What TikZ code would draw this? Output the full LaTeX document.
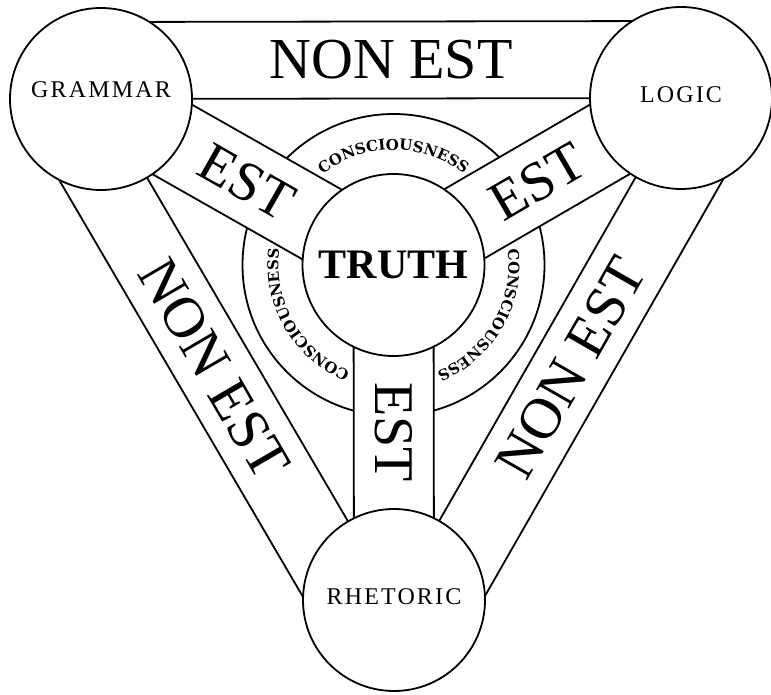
\documentclass[tikz,border=0pt]{standalone}
\usepackage{fontspec}
\setmainfont{Liberation Serif}
\newfontfamily\artfont[LetterSpace=9]{Liberation Serif}
\newfontfamily\ringfont{DejaVu Serif}
\usetikzlibrary{calc,backgrounds,decorations.text}

\newcommand\ringtext{\ringfont\bfseries\fontsize{15}{15}\selectfont}

\tikzset{
  art/.style={circle, draw, fill=white, line width=1.8pt, minimum size=182pt, inner sep=0pt},
  artname/.style={font=\artfont\fontsize{24}{24}\selectfont, text depth=6pt},
  bigword/.style={font=\fontsize{58}{58}\selectfont},
  estword/.style={font=\fontsize{56}{56}\selectfont},
  band/.style={line width=1.8pt},
  ringword/.style={decorate, decoration={text along path, text align=center, text={|\ringtext|CONSCIOUSNESS}}},
}

\begin{document}
\begin{tikzpicture}[x=1pt,y=1pt]
        \useasboundingbox (0,0) rectangle (771,694);
        % the arts and truth
        \node[art, artname, text depth=18pt] (gram) at (101,595) {GRAMMAR};
        \node[art, artname] (logic) at (681,596) {LOGIC};
        \node[art, artname] (rhet) at (394,94) {RHETORIC};
        \node[art, font=\bfseries\fontsize{42}{42}\selectfont] (truth) at (393.5,429) {TRUTH};

        \begin{scope}[on background layer]
        \draw[band] (truth.center) circle[radius=151];
        % spokes
        \fill[white] ($(truth.center)!40pt!90:(gram.center)$) -- ($(gram.center)!40pt!-90:(truth.center)$) -- ($(gram.center)!40pt!90:(truth.center)$) -- ($(truth.center)!40pt!-90:(gram.center)$) -- cycle;
        \draw[band] ($(truth.center)!40pt!90:(gram.center)$) -- ($(gram.center)!40pt!-90:(truth.center)$);
        \draw[band] ($(truth.center)!40pt!-90:(gram.center)$) -- ($(gram.center)!40pt!90:(truth.center)$);
        \fill[white] ($(truth.center)!40pt!90:(logic.center)$) -- ($(logic.center)!40pt!-90:(truth.center)$) -- ($(logic.center)!40pt!90:(truth.center)$) -- ($(truth.center)!40pt!-90:(logic.center)$) -- cycle;
        \draw[band] ($(truth.center)!40pt!90:(logic.center)$) -- ($(logic.center)!40pt!-90:(truth.center)$);
        \draw[band] ($(truth.center)!40pt!-90:(logic.center)$) -- ($(logic.center)!40pt!90:(truth.center)$);
        \fill[white] ($(truth.center)!40pt!90:(rhet.center)$) -- ($(rhet.center)!40pt!-90:(truth.center)$) -- ($(rhet.center)!40pt!90:(truth.center)$) -- ($(truth.center)!40pt!-90:(rhet.center)$) -- cycle;
        \draw[band] ($(truth.center)!40pt!90:(rhet.center)$) -- ($(rhet.center)!40pt!-90:(truth.center)$);
        \draw[band] ($(truth.center)!40pt!-90:(rhet.center)$) -- ($(rhet.center)!40pt!90:(truth.center)$);
        % outer bands
        \draw[band] (gram.center) -- (logic.center);
        \draw[band] ($(gram.center)!77pt!90:(logic.center)$) -- ($(logic.center)!77pt!-90:(gram.center)$);
        \draw[band] (logic.center) -- (rhet.center);
        \draw[band] ($(logic.center)!77pt!90:(rhet.center)$) -- ($(rhet.center)!77pt!-90:(logic.center)$);
        \draw[band] (rhet.center) -- (gram.center);
        \draw[band] ($(rhet.center)!77pt!90:(gram.center)$) -- ($(gram.center)!77pt!-90:(rhet.center)$);
        \end{scope}

        % consciousness ring
        \path[ringword] ([shift={(132:115)}]truth.center) arc[start angle=132, end angle=48, radius=115];
        \path[ringword] ([shift={(12:115)}]truth.center) arc[start angle=12, end angle=-72, radius=115];
        \path[ringword] ([shift={(252:115)}]truth.center) arc[start angle=252, end angle=168, radius=115];

        \node[bigword] (topne) at (391,634) {NON EST};
        \node[bigword, rotate=-59.7] (leftne) at (214,325) {NON EST};
        \node[bigword, rotate=60.2] (rightne) at (571,326) {NON EST};
        \node[estword, rotate=-29.6] (estg) at (247,512) {EST};
        \node[estword, rotate=30.2] (estl) at (537.5,512.5) {EST};
        \node[estword, rotate=-90] (estr) at (394,262) {EST};
    \end{tikzpicture}
\end{document}
